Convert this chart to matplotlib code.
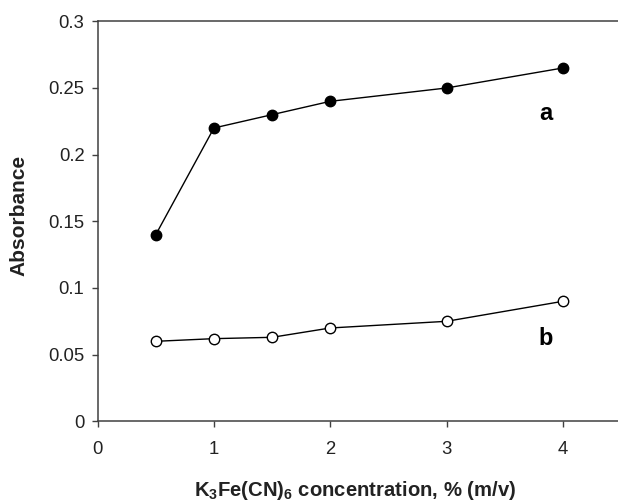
import numpy as np
import matplotlib
matplotlib.use("Agg")
import matplotlib.pyplot as plt

plt.rcParams['font.family'] = ['Liberation Sans', 'DejaVu Sans']
plt.rcParams['mathtext.fontset'] = 'custom'
plt.rcParams['mathtext.rm'] = 'Liberation Sans:bold'
plt.rcParams['mathtext.bf'] = 'Liberation Sans:bold'
plt.rcParams['mathtext.default'] = 'bf'

# K3Fe(CN)6 concentration, % (m/v)
conc = [0.5, 1, 1.5, 2, 3, 4]
# absorbance for the two curves
absorb_a = [0.14, 0.22, 0.23, 0.24, 0.25, 0.265]
absorb_b = [0.06, 0.062, 0.063, 0.07, 0.075, 0.09]

x_ticks = [0, 1, 2, 3, 4]
y_ticks = [0, 0.05, 0.1, 0.15, 0.2, 0.25, 0.3]
y_ticklabels = ['0', '0.05', '0.1', '0.15', '0.2', '0.25', '0.3']

fig = plt.figure(figsize=(6.18, 5.03), dpi=100)
ax = fig.add_axes([0.158, 0.1624, 0.8468, 0.7952])

ax.plot(conc, absorb_a, color='black', lw=1.0, marker='o', ms=7.5,
        mfc='black', mec='black', zorder=3)
ax.plot(conc, absorb_b, color='black', lw=1.0, marker='o', ms=7.5,
        mfc='white', mec='black', mew=1.0, zorder=3)

ax.text(3.85, 0.231, 'a', fontsize=17, fontweight='bold', ha='center', va='center')
ax.text(3.85, 0.062, 'b', fontsize=17, fontweight='bold', ha='center', va='center')

ax.set_xlim(0, 4.5)
ax.set_ylim(0, 0.3)
ax.set_xticks(x_ticks)
ax.set_yticks(y_ticks)
ax.set_yticklabels(y_ticklabels)

for side in ['left', 'bottom', 'top']:
    ax.spines[side].set_color('#404040')
    ax.spines[side].set_linewidth(1.1)
ax.spines['right'].set_visible(False)

ax.tick_params(axis='both', direction='out', length=4, width=1.0,
               color='#404040', labelsize=13.3, labelcolor='#222222')
ax.tick_params(axis='x', pad=10.5)
ax.tick_params(axis='y', pad=5.5)

fig.text(0.031, 0.5726, 'Absorbance', rotation=90, fontsize=15, fontweight='bold',
         color='#222222', ha='center', va='center')
fig.text(0.574, 0.013, r'K$_3$Fe(CN)$_6$ concentration, % (m/v)', fontsize=14.6,
         fontweight='bold', color='#222222', ha='center', va='baseline')

fig.savefig('out.png', dpi=100)
